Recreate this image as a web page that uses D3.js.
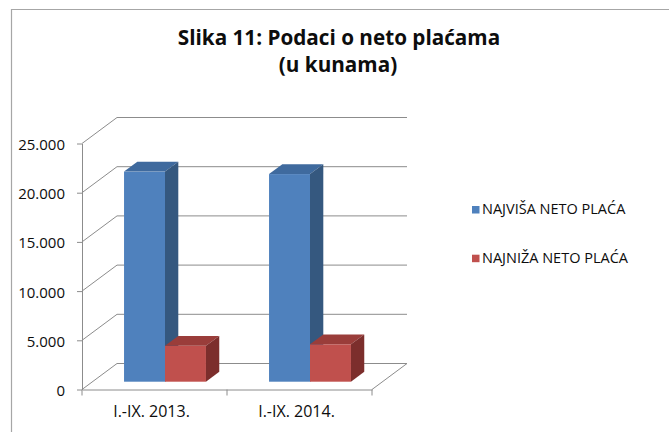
<!DOCTYPE html>
<html>
<head>
<meta charset="utf-8">
<script src="https://cdn.jsdelivr.net/npm/d3@7"></script>
<style>
  body { margin: 0; background: #fff; }
  text { font-family: "Open Sans", "DejaVu Sans", sans-serif; fill: #0d0d0d; }
</style>
</head>
<body>
<div id="chart"></div>
<script>
// data
var categories = ["I.-IX. 2013.", "I.-IX. 2014."];
var seriesNames = ["NAJVIŠA NETO PLAĆA", "NAJNIŽA NETO PLAĆA"];
var highest = [21350, 21100];
var lowest = [3650, 3800];
var yTicks = [0, 5000, 10000, 15000, 20000, 25000];

var seriesValues = [highest, lowest];
var colors = [
  { front: "#4f81bd", top: "#3f6a9e", side: "#35587f" },
  { front: "#c0504d", top: "#9a3d3a", side: "#7c2e2c" }
];

var W = 669, H = 432;
var svg = d3.select("#chart").append("svg")
    .attr("width", W).attr("height", H);

svg.append("rect").attr("width", W).attr("height", H).attr("fill", "#fff");

// frame (only top and left edges are visible in the picture)
svg.append("path")
    .attr("d", "M11.5,432 L11.5,9.5 L669,9.5")
    .attr("fill", "none").attr("stroke", "#a6a6a6").attr("stroke-width", 1.2);

// title
var title = svg.append("text").attr("text-anchor", "middle")
    .style("font-weight", "bold").style("font-size", "20.7px");
title.append("tspan").attr("x", 339).attr("y", 45).text("Slika 11: Podaci o neto plaćama");
title.append("tspan").attr("x", 338).attr("y", 71.5).text("(u kunama)");

// front plane of the 3D box
var left = 82, right = 372, floorY = 389.5, topY = 143.5;
var depthX = 35, depthY = -26;      // full depth of the box
var barF0 = 0.3, barF1 = 0.68;       // bar depth inside the box

var y = d3.scaleLinear().domain([0, 25000]).range([floorY, topY]);
var x0 = d3.scaleBand().domain(categories).range([left, right]);
var x1 = d3.scaleBand().domain(seriesNames).range([0, x0.bandwidth()])
    .paddingInner(0).paddingOuter(0.77);

var grid = "#8c8c8c";
var g = svg.append("g");

// back wall gridlines + left wall diagonals
yTicks.forEach(function(t) {
  g.append("line")
    .attr("x1", left + depthX).attr("x2", right + depthX)
    .attr("y1", y(t) + depthY).attr("y2", y(t) + depthY)
    .attr("stroke", grid).attr("stroke-width", 1);
  g.append("line")
    .attr("x1", left).attr("x2", left + depthX)
    .attr("y1", y(t)).attr("y2", y(t) + depthY)
    .attr("stroke", grid).attr("stroke-width", 1);
});

// floor right edge
g.append("line")
  .attr("x1", right).attr("y1", floorY)
  .attr("x2", right + depthX).attr("y2", floorY + depthY)
  .attr("stroke", grid);

// y axis
var fmt = d3.formatLocale({ decimal: ",", thousands: ".", grouping: [3], currency: ["", ""] }).format(",d");
var yAxis = svg.append("g")
    .attr("transform", "translate(" + left + ",0)")
    .call(d3.axisLeft(y).tickValues(yTicks).tickFormat(fmt).tickSize(5).tickSizeOuter(0).tickPadding(12));
yAxis.select(".domain").attr("stroke", grid);
yAxis.selectAll(".tick line").attr("stroke", grid);
yAxis.selectAll("text").style("font-size", "15px").attr("dy", "0.4em").attr("fill", "#0d0d0d");

// x axis
var xAxis = svg.append("g")
    .attr("transform", "translate(0," + floorY + ")")
    .call(d3.axisBottom(x0).tickSize(0).tickPadding(16));
xAxis.select(".domain").attr("stroke", grid);
xAxis.selectAll("text").style("font-size", "16px").attr("dx", "-3").attr("fill", "#0d0d0d");
var edges = categories.map(function(c) { return x0(c); }).concat([right]);
xAxis.selectAll(".edge").data(edges).enter().append("line")
    .attr("x1", function(d) { return d; }).attr("x2", function(d) { return d; })
    .attr("y1", 0).attr("y2", 6).attr("stroke", grid);

// bars
var fx = depthX * barF0, fy = depthY * barF0;
var bdx = depthX * (barF1 - barF0), bdy = depthY * (barF1 - barF0);
var bars = svg.append("g");
categories.forEach(function(cat, ci) {
  seriesNames.forEach(function(s, si) {
    var v = seriesValues[si][ci];
    var xa = x0(cat) + x1(s) + fx, xb = xa + x1.bandwidth();
    var yb = y(0) + fy, yt = y(v) + fy;
    var col = colors[si];
    var b = bars.append("g");
    b.append("rect").attr("x", xa).attr("y", yt).attr("width", xb - xa).attr("height", yb - yt)
      .attr("fill", col.front);
    b.append("path")
      .attr("d", "M" + xa + "," + yt + "L" + (xa + bdx) + "," + (yt + bdy) + "L" + (xb + bdx) + "," + (yt + bdy) + "L" + xb + "," + yt + "Z")
      .attr("fill", col.top);
    b.append("path")
      .attr("d", "M" + xb + "," + yt + "L" + (xb + bdx) + "," + (yt + bdy) + "L" + (xb + bdx) + "," + (yb + bdy) + "L" + xb + "," + yb + "Z")
      .attr("fill", col.side);
  });
});

// legend
var legend = svg.append("g");
seriesNames.forEach(function(s, i) {
  var ly = 214 + i * 48.7;
  legend.append("rect").attr("x", 472).attr("y", ly - 8).attr("width", 7.5).attr("height", 7.5)
    .attr("fill", colors[i].front);
  legend.append("text").attr("x", 482).attr("y", ly)
    .style("font-size", "14.5px").text(s);
});
</script>
</body>
</html>
